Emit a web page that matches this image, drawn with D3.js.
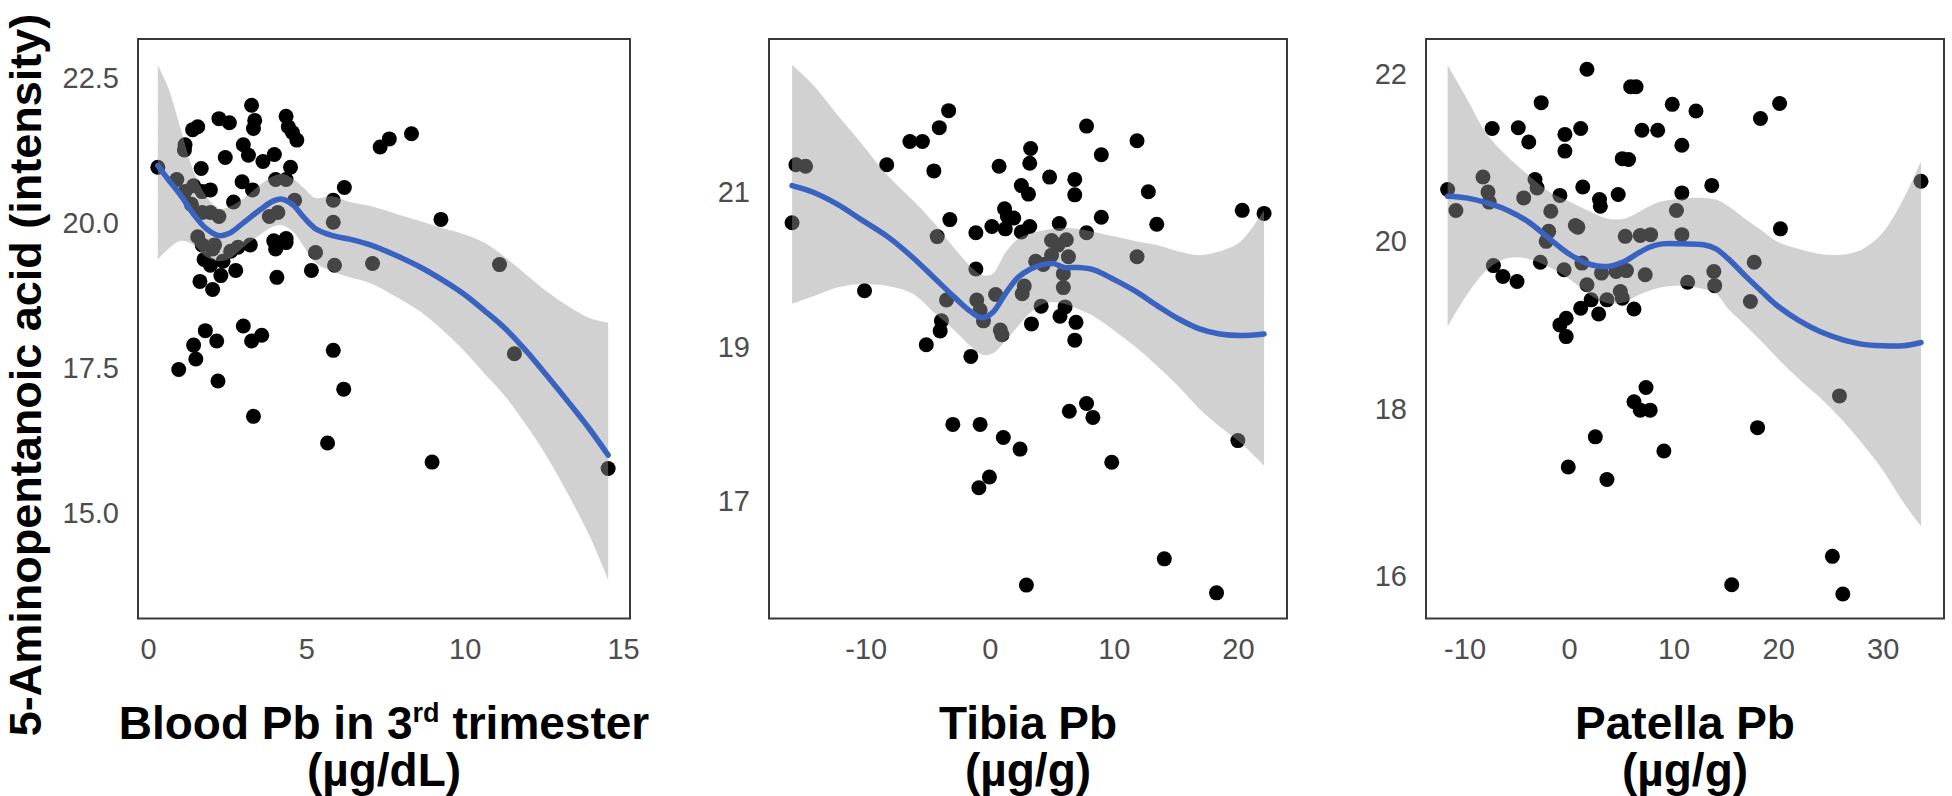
<!DOCTYPE html>
<html>
<head>
<meta charset="utf-8">
<script src="https://cdn.jsdelivr.net/npm/d3@7"></script>
<style>
  html, body { margin: 0; padding: 0; background: #fff; }
  svg { display: block; }
</style>
</head>
<body>
<svg id="chart" width="1952" height="796"></svg>
<script>
// ---------------- DATA ----------------
const yAxisTitle = "5-Aminopentanoic acid (intensity)";

// Panel 1: Blood Pb in 3rd trimester
const bloodX = [0.31,0.97,1.51,1.44,1.81,2.17,2.21,3.01,3.27,3.59,3.33,5.85,6.18,5.67,8.97,14.53,11.57,11.10,9.25,8.32,7.62,7.33,7.09,6.20,5.85,5.85,5.89,5.29,5.16,4.36,4.43,4.56,4.70,4.50,4.63,4.36,4.03,3.83,4.10,4.36,4.36,4.03,4.07,3.99,3.63,3.27,3.37,3.33,3.01,3.17,2.97,3.30,3.23,2.84,2.61,2.77,2.70,2.44,2.24,2.57,2.24,1.97,1.71,1.71,1.97,1.68,1.57,1.41,1.17,1.15,0.91,1.17,1.57,1.71,2.04,1.77,1.97,2.30,1.64,2.04,2.37,2.10,1.44,1.37,3.97];
const bloodY = [20.95,17.46,17.64,17.88,18.13,17.95,17.26,18.21,17.95,18.05,16.65,17.79,17.12,16.19,15.86,15.75,17.73,19.27,20.05,21.53,21.44,21.30,19.29,20.60,20.38,20.00,19.26,19.48,19.17,21.83,21.65,21.55,21.42,20.95,20.38,20.74,20.74,20.10,20.17,19.72,19.65,19.54,19.05,21.17,21.05,22.02,21.76,21.62,21.34,21.16,20.70,20.56,19.61,19.57,19.50,19.17,20.35,21.12,21.79,21.72,20.10,20.17,20.17,20.53,20.56,20.93,21.65,21.60,21.34,21.25,20.74,20.53,19.75,19.61,19.54,19.36,19.26,19.08,18.98,18.84,19.33,19.61,20.63,20.31,19.68];
const bloodFitX = [0.31,0.64,1.04,1.44,1.84,2.24,2.57,3.03,3.57,3.96,4.23,4.56,4.90,5.29,5.83,6.36,7.02,7.82,8.62,9.28,9.95,10.61,11.27,11.94,12.60,13.27,13.93,14.53];
const bloodFit  = [20.98,20.74,20.46,20.14,19.89,19.77,19.81,20.00,20.23,20.37,20.40,20.31,20.10,19.89,19.77,19.71,19.61,19.43,19.22,19.01,18.77,18.48,18.17,17.78,17.35,16.90,16.44,15.98];
const bloodHi   = [22.71,22.32,21.60,20.88,20.45,20.24,20.27,20.42,20.66,20.80,20.84,20.76,20.60,20.42,20.45,20.35,20.28,20.15,20.02,19.90,19.80,19.65,19.40,19.10,18.80,18.55,18.35,18.27];
const bloodLo   = [19.36,19.54,19.68,19.61,19.40,19.33,19.37,19.58,19.80,19.93,19.95,19.85,19.60,19.30,19.15,19.05,18.95,18.72,18.45,18.15,17.80,17.40,17.00,16.50,15.95,15.30,14.60,13.83];
const bloodXTicks = [0, 5, 10, 15];
const bloodYTicks = [15, 17.5, 20, 22.5];
const bloodYTickLabels = ["15.0", "17.5", "20.0", "22.5"];

// Panel 2: Tibia Pb
const tibiaX = [-15.94,-15.63,-14.85,-10.10,-8.31,-6.44,-5.43,-4.07,-3.32,-4.51,-3.22,-4.24,-3.49,-3.90,-4.00,-5.12,-1.53,-1.12,-1.12,-1.05,-0.51,-0.78,0.47,0.85,0.98,0.75,0.17,1.19,1.42,1.25,1.93,2.61,2.44,1.09,-0.78,-2.98,-0.03,-0.88,2.95,3.29,3.22,2.54,3.12,3.22,2.54,4.82,5.60,3.36,4.14,3.70,4.31,4.98,4.98,6.17,6.34,5.93,6.07,5.66,6.85,6.85,6.95,6.85,6.41,7.80,7.80,8.99,8.99,7.80,8.31,9.83,11.87,12.78,13.46,11.87,14.07,18.28,20.00,20.35,22.11,5.93,5.49,2.78];
const tibiaY = [20.59,21.34,21.32,19.71,21.34,21.64,21.64,21.82,22.04,21.26,20.63,20.41,19.59,19.32,19.19,19.01,18.86,20.46,19.99,19.59,19.32,19.46,19.66,19.20,19.14,21.32,20.54,20.77,20.67,20.51,20.65,19.67,17.66,17.81,17.98,17.98,17.30,17.16,15.90,21.55,21.36,21.07,20.96,20.54,20.47,21.18,20.58,19.28,19.51,20.09,20.05,20.36,20.17,20.37,20.15,19.75,19.50,19.38,21.15,20.95,19.30,19.07,18.15,21.84,20.46,21.47,20.66,18.25,18.07,17.49,21.65,20.99,20.57,20.15,16.24,15.80,17.77,20.75,20.71,19.93,20.30,19.77];
const tibiaFitX = [-15.94,-14.34,-12.31,-10.27,-8.24,-6.21,-4.51,-2.81,-1.46,-0.61,0.24,1.25,2.27,3.29,4.31,5.15,6.00,7.02,8.38,10.07,11.77,13.46,15.16,16.85,18.55,20.24,22.11];
const tibiaFit  = [21.07,20.99,20.83,20.62,20.41,20.14,19.88,19.62,19.43,19.36,19.43,19.67,19.88,19.99,20.05,20.06,20.01,20.01,19.98,19.85,19.70,19.52,19.35,19.22,19.15,19.13,19.15];
const tibiaHi   = [22.63,22.39,21.99,21.60,21.20,20.88,20.59,20.25,20.01,19.91,19.93,20.20,20.38,20.45,20.49,20.51,20.52,20.51,20.47,20.41,20.35,20.30,20.22,20.17,20.22,20.35,20.75];
const tibiaLo   = [19.54,19.63,19.75,19.80,19.77,19.67,19.43,19.19,18.98,18.88,18.90,19.06,19.25,19.43,19.54,19.56,19.54,19.48,19.38,19.19,18.98,18.74,18.48,18.19,17.95,17.74,17.45];
const tibiaXTicks = [-10, 0, 10, 20];
const tibiaYTicks = [17, 19, 21];

// Panel 3: Patella Pb
const patellaX = [-11.62,-10.83,-8.24,-7.76,-7.64,-7.36,-7.24,-6.33,-4.98,-4.86,-3.86,-2.67,-4.34,-3.26,-3.06,-1.75,-1.95,-2.19,-2.75,-0.88,-0.48,-0.40,-0.40,1.11,1.71,0.60,0.84,1.23,1.31,1.71,2.11,1.11,-0.88,-0.28,-0.28,2.83,2.91,2.99,3.10,3.62,4.50,4.90,5.09,5.49,4.70,5.09,5.69,5.89,6.41,5.37,6.81,7.80,6.97,8.48,6.21,7.28,7.36,6.21,6.81,7.76,2.51,-0.08,3.62,9.07,9.87,10.79,12.14,10.27,10.79,10.79,11.34,13.65,13.85,13.93,17.71,17.35,18.31,20.14,20.22,18.03,15.56,25.19,26.19,25.87,33.67];
const patellaY = [20.61,20.36,20.76,20.58,20.46,21.34,19.70,19.57,19.51,21.35,21.18,21.65,20.51,20.73,20.63,20.35,20.11,19.99,19.74,20.54,19.65,21.27,21.07,21.34,22.05,20.18,20.16,19.73,20.64,19.47,19.29,19.19,18.99,19.07,18.85,19.12,20.49,20.41,19.61,19.29,19.63,19.39,19.31,19.64,20.55,20.98,20.97,21.84,21.84,20.05,20.06,20.07,21.32,21.32,19.18,19.59,18.24,18.07,17.97,17.97,17.65,17.29,17.14,17.48,21.63,21.14,21.55,20.36,20.57,20.07,19.50,20.66,19.63,19.46,19.74,19.27,21.46,21.64,20.14,17.76,15.88,16.22,15.77,18.14,20.71];
const patellaFitX = [-11.62,-9.83,-7.84,-5.85,-3.86,-1.87,0.12,2.11,3.70,5.29,6.49,7.68,8.88,10.87,12.86,14.05,15.24,16.84,18.43,20.02,22.01,24.00,25.99,27.98,29.97,31.96,33.67];
const patellaFit  = [20.53,20.51,20.45,20.36,20.22,20.02,19.83,19.71,19.69,19.75,19.84,19.92,19.96,19.96,19.95,19.90,19.78,19.58,19.39,19.21,19.04,18.91,18.82,18.76,18.74,18.74,18.78];
const patellaHi   = [22.10,21.71,21.27,21.00,20.78,20.58,20.46,20.34,20.26,20.26,20.33,20.41,20.47,20.50,20.51,20.49,20.41,20.26,20.12,19.98,19.90,19.84,19.83,19.89,20.09,20.49,20.95];
const patellaLo   = [18.97,19.34,19.65,19.79,19.78,19.68,19.53,19.34,19.25,19.26,19.34,19.40,19.44,19.46,19.42,19.37,19.18,18.99,18.79,18.58,18.34,18.12,17.87,17.58,17.26,16.87,16.58];
const patellaXTicks = [-10, 0, 10, 20, 30];
const patellaYTicks = [16, 18, 20, 22];

// axis limits (data units)
const bloodXDomain = [-0.316, 15.22],  bloodYDomain = [13.16, 23.165];
const tibiaXDomain = [-17.80, 23.96],  tibiaYDomain = [15.468, 22.967];
const patellaXDomain = [-13.69, 35.87], patellaYDomain = [15.476, 22.412];

// ---------------- LAYOUT ----------------
const panels = [
  { x: bloodX, y: bloodY, fx: bloodFitX, fy: bloodFit, hi: bloodHi, lo: bloodLo,
    xd: bloodXDomain, yd: bloodYDomain, xt: bloodXTicks, yt: bloodYTicks, ytl: bloodYTickLabels,
    left: 138, right: 630, title: "blood" },
  { x: tibiaX, y: tibiaY, fx: tibiaFitX, fy: tibiaFit, hi: tibiaHi, lo: tibiaLo,
    xd: tibiaXDomain, yd: tibiaYDomain, xt: tibiaXTicks, yt: tibiaYTicks, ytl: null,
    left: 769, right: 1287, title: "tibia" },
  { x: patellaX, y: patellaY, fx: patellaFitX, fy: patellaFit, hi: patellaHi, lo: patellaLo,
    xd: patellaXDomain, yd: patellaYDomain, xt: patellaXTicks, yt: patellaYTicks, ytl: null,
    left: 1426, right: 1944, title: "patella" }
];
const plotTop = 39, plotBottom = 618.5;
const FONT = "'Liberation Sans', Arial, Helvetica, sans-serif";

const svg = d3.select("#chart");

panels.forEach((p, pi) => {
  const xs = d3.scaleLinear().domain(p.xd).range([p.left, p.right]);
  const ys = d3.scaleLinear().domain(p.yd).range([plotBottom, plotTop]);
  const g = svg.append("g");

  const clipId = "clip" + pi;
  g.append("clipPath").attr("id", clipId)
    .append("rect").attr("x", p.left).attr("y", plotTop)
    .attr("width", p.right - p.left).attr("height", plotBottom - plotTop);

  const plot = g.append("g").attr("clip-path", `url(#${clipId})`);

  // points
  plot.selectAll("circle").data(p.x.map((v, i) => [v, p.y[i]]))
    .enter().append("circle")
    .attr("cx", d => xs(d[0])).attr("cy", d => ys(d[1]))
    .attr("r", 7.5).attr("fill", "#000");

  const fit = p.fx.map((v, i) => ({ x: v, y: p.fy[i], lo: p.lo[i], hi: p.hi[i] }));

  // ribbon
  plot.append("path").datum(fit)
    .attr("d", d3.area().curve(d3.curveCatmullRom)
      .x(d => xs(d.x)).y0(d => ys(d.lo)).y1(d => ys(d.hi)))
    .attr("fill", "#999999").attr("fill-opacity", 0.45);

  // smooth line
  plot.append("path").datum(fit)
    .attr("d", d3.line().curve(d3.curveCatmullRom).x(d => xs(d.x)).y(d => ys(d.y)))
    .attr("fill", "none").attr("stroke", "#3a62c0").attr("stroke-width", 5.5)
    .attr("stroke-linecap", "round").attr("stroke-linejoin", "round");

  // frame
  g.append("rect").attr("x", p.left).attr("y", plotTop)
    .attr("width", p.right - p.left).attr("height", plotBottom - plotTop)
    .attr("fill", "none").attr("stroke", "#3a3a3a").attr("stroke-width", 2);

  // x axis
  const xAxis = d3.axisBottom(xs).tickValues(p.xt).tickSize(0).tickPadding(0)
    .tickFormat(d => String(d));
  const xg = g.append("g").attr("transform", `translate(0,${plotBottom})`).call(xAxis);
  xg.select(".domain").remove();
  xg.selectAll("text").attr("y", 40.5).attr("dy", null)
    .attr("font-family", FONT).attr("font-size", 29).attr("fill", "#4d4d4d");

  // y axis
  const yAxis = d3.axisLeft(ys).tickValues(p.yt).tickSize(0).tickPadding(19)
    .tickFormat((d, i) => p.ytl ? p.ytl[i] : String(d));
  const yg = g.append("g").attr("transform", `translate(${p.left},0)`).call(yAxis);
  yg.select(".domain").remove();
  yg.selectAll("text").attr("dy", "0.36em")
    .attr("font-family", FONT).attr("font-size", 29).attr("fill", "#4d4d4d");

  // x title
  const cx = (p.left + p.right) / 2;
  const t1 = g.append("text").attr("x", cx).attr("y", 739)
    .attr("text-anchor", "middle").attr("font-family", FONT)
    .attr("font-weight", "bold").attr("font-size", 46).attr("fill", "#000");
  const t2 = g.append("text").attr("x", cx).attr("y", 786)
    .attr("text-anchor", "middle").attr("font-family", FONT)
    .attr("font-weight", "bold").attr("font-size", 46).attr("fill", "#000");
  if (p.title === "blood") {
    t1.append("tspan").text("Blood Pb in 3");
    t1.append("tspan").text("rd").attr("font-size", 27).attr("dy", -17);
    t1.append("tspan").text(" trimester").attr("dy", 17);
    t2.text("(µg/dL)");
  } else if (p.title === "tibia") {
    t1.text("Tibia Pb");
    t2.text("(µg/g)");
  } else {
    t1.text("Patella Pb");
    t2.text("(µg/g)");
  }
});

// y axis title
svg.append("text")
  .attr("transform", "translate(41,375) rotate(-90)")
  .attr("text-anchor", "middle").attr("font-family", FONT)
  .attr("font-weight", "bold").attr("font-size", 45).attr("fill", "#000")
  .text(yAxisTitle);
</script>
</body>
</html>
